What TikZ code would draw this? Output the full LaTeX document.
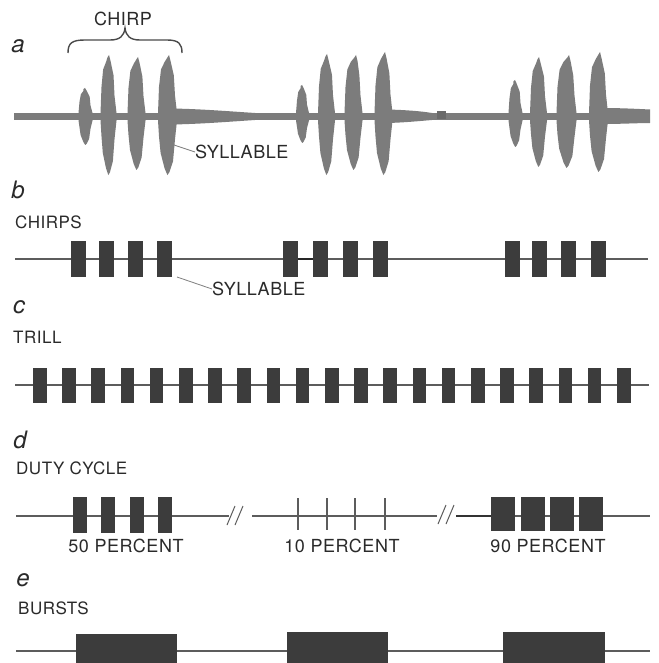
\documentclass[tikz,border=0pt]{standalone}
\usepackage{fontspec}
\setmainfont{TeX Gyre Heros}
\newfontfamily\lab[LetterSpace=3]{TeX Gyre Heros}
\usetikzlibrary{patterns}
\definecolor{wavegray}{HTML}{7C7C7C}
\definecolor{patchgray}{HTML}{6A6A6A}
\definecolor{blockgray}{HTML}{3C3C3C}
\definecolor{linegray}{HTML}{5C5C5C}
\definecolor{txtgray}{HTML}{2A2A2A}
\tikzset{
  wave/.style={fill=wavegray},
  blk/.style={fill=blockgray},
  base/.style={draw=linegray, line width=1.3pt},
  leader/.style={draw=gray, line width=0.8pt},
  rowlab/.style={anchor=west, inner sep=0pt, text=txtgray, font=\lab\fontsize{17}{19}\selectfont},
  pctlab/.style={inner sep=0pt, text=txtgray, font=\lab\fontsize{18}{21}\selectfont},
  letter/.style={inner sep=0pt, text=txtgray, font=\fontsize{24}{26}\selectfont\itshape},
}
% x, top, bottom, half width, peak offset
\newcommand\mysyl[5]{%
 \fill[wave] ({#1-#4-1},113) -- ({#1-#4},{#2+0.55*(113-#2)}) -- ({#1-0.75*#4},{#2+0.25*(113-#2)})
  -- ({#1-0.3*#4},{#2+0.12*(113-#2)}) -- ({#1+#5-1.5},{#2+0.04*(113-#2)}) -- ({#1+#5},#2)
  -- ({#1+#5+1.5},{#2+0.1*(113-#2)}) -- ({#1+0.85*#4},{#2+0.35*(113-#2)}) -- ({#1+#4},{#2+0.7*(113-#2)})
  -- ({#1+#4+2},113) -- ({#1+#4+2},120.5) -- ({#1+#4},{120+0.35*(#3-120)})
  -- ({#1+0.75*#4},{120+0.75*(#3-120)}) -- ({#1+0.3*#4},{#3-0.05*(#3-120)}) -- ({#1+0.05*#4},#3)
  -- ({#1-0.3*#4},{#3-0.12*(#3-120)}) -- ({#1-0.8*#4},{120+0.6*(#3-120)}) -- ({#1-#4},{120+0.3*(#3-120)})
  -- ({#1-#4-1},120.5) -- cycle;}
\begin{document}
\begin{tikzpicture}[x=1pt,y=-1pt]
\useasboundingbox[fill=white] (0,0) rectangle (658,663);

% ---------- a ----------
\node[letter] (la) at (18,46) {a};
\node[pctlab] (chirp) at (123,19) {CHIRP};
\draw[draw=txtgray!85, line width=1.4pt] (68,53) .. controls (68,43) and (72,40) .. (85,40) -- (110,40)
  .. controls (120,40) and (124,36) .. (125,28) .. controls (126,36) and (130,40) .. (140,40) -- (167,40)
  .. controls (179,40) and (182,44) .. (182,53);
% baseline band
\fill[wave] (14,113) rectangle (650,120.5);
\fill[wave] (172,108.5) .. controls (200,109) and (225,111) .. (255,113) -- (255,120) .. controls (225,122) and (200,124) .. (172,124.5) -- cycle;
\fill[wave] (388,109.5) .. controls (405,110) and (420,111) .. (432,113) -- (432,120) .. controls (420,121) and (405,122.5) .. (388,123) -- cycle;
\fill[wave] (604,108) .. controls (620,108) and (640,109) .. (650,109.5) -- (650,123) .. controls (640,123) and (620,124) .. (604,124) -- cycle;
\fill[patchgray] (437,111) rectangle (446,119);
% chirp 1
\mysyl{85}{88}{145}{5.5}{0}
\mysyl{108}{55}{175}{6.5}{1}
\mysyl{136}{57}{170}{7.5}{2}
\mysyl{167}{55}{175}{8}{2}
% chirp 2
\mysyl{302}{85}{143}{5}{0}
\mysyl{326}{54}{175}{7}{1}
\mysyl{353}{55}{170}{7.5}{3}
\mysyl{383}{52}{175}{7.5}{2}
% chirp 3
\mysyl{515}{80}{147}{5.5}{0}
\mysyl{538}{57}{167}{7}{1}
\mysyl{566}{55}{168}{8.5}{3}
\mysyl{598}{52}{172}{8}{2}
\node[pctlab, anchor=west] (syla) at (195,152) {SYLLABLE};
\coordinate (sa) at (174,145);
\draw[leader] (sa) -- (syla.west);

% ---------- b ----------
\node[letter] (lb) at (18,190) {b};
\node[rowlab] (chirps) at (15,222) {CHIRPS};
\draw[base] (15,259) -- (648,259);
\draw[draw=black!85, line width=1.8pt] (298,259) -- (313,259);
\foreach \x in {71,99,128,157,283,313,343,373,505,532,561,591}
  \fill[blk] (\x,241) rectangle ++(15,36);
\node[pctlab, anchor=west] (sylb) at (212,289) {SYLLABLE};
\coordinate (sb) at (177,277);
\draw[leader] (sb) -- (sylb.west);

% ---------- c ----------
\node[letter] (lc) at (19,307) {c};
\node[rowlab] (trill) at (13,337) {TRILL};
\draw[base] (15,385) -- (649,385);
\foreach \i in {0,...,20}
  \fill[blk] ({33+\i*29.2},368) rectangle ++(13.5,35);

% ---------- d ----------
\node[letter] (ld) at (20,440) {d};
\node[rowlab] (duty) at (16,468) {DUTY CYCLE};
\draw[base] (16,516) -- (229,516);
\draw[base] (252,516) -- (437,516);
\draw[draw=linegray, line width=1pt] (227,525) -- (235,506) (235,525) -- (243,506);
\draw[draw=linegray, line width=1pt] (438,524) -- (446,505) (446,524) -- (454,505);
\draw[draw=black!80, line width=2.2pt] (456,516) -- (491,516);
\draw[base] (491,516) -- (650,516);
\foreach \x in {73,101,130,158}
  \fill[blk] (\x,497) rectangle ++(14,36);
\foreach \x in {298,327,355,385}
  \draw[draw=linegray, line width=1.2pt] (\x,498) -- (\x,530);
\foreach \x in {491,521,550,579}
  \fill[blk] (\x,497) rectangle ++(24,34);
\node[pctlab] (p50) at (126,546) {50 PERCENT};
\node[pctlab] (p10) at (342,546) {10 PERCENT};
\node[pctlab] (p90) at (548,546) {90 PERCENT};

% ---------- e ----------
\node[letter] (le) at (23,580) {e};
\node[rowlab] (bursts) at (18,608) {BURSTS};
\draw[base] (16,651) -- (650,651);
\fill[blk] (76,634) rectangle (177,663);
\fill[blk] (287,632) rectangle (388,663);
\fill[blk] (503,632) rectangle (605,663);
\end{tikzpicture}
\end{document}
